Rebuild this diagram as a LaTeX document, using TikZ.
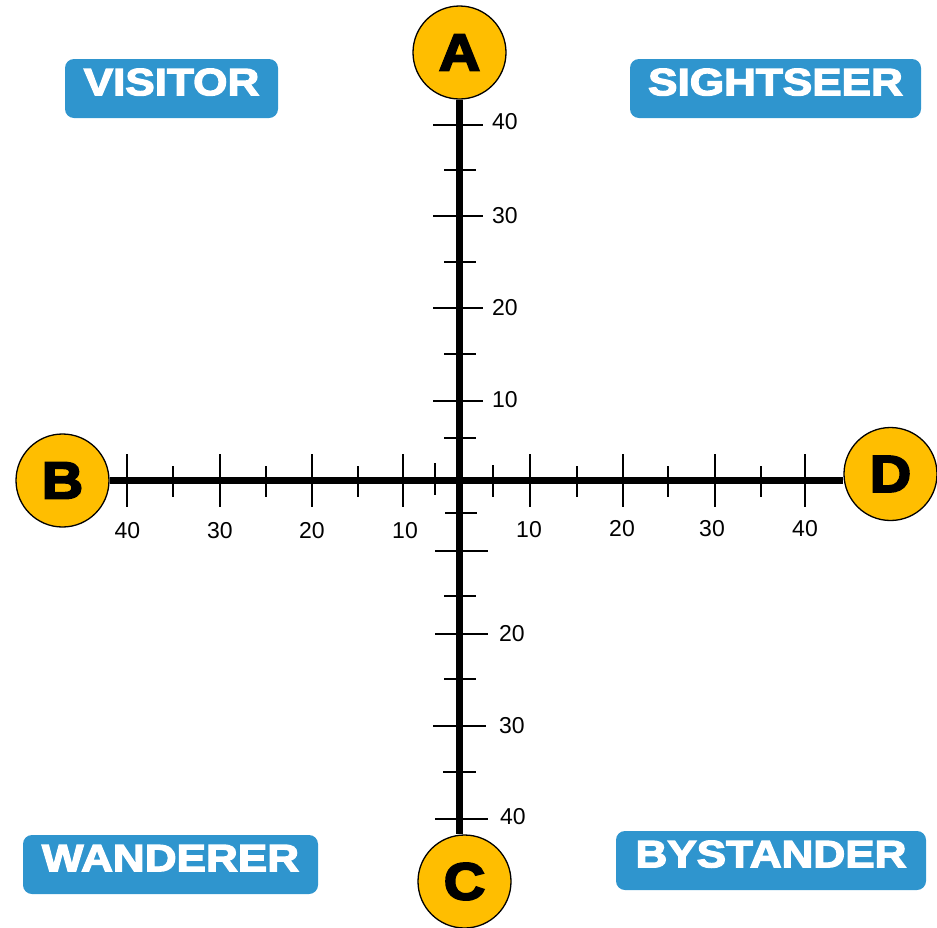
\documentclass[tikz,border=0pt]{standalone}
\usepackage{fontspec}
\setmainfont{Liberation Sans}
\newfontfamily\heavyfont{Liberation Sans}[BoldFeatures={FakeBold=3.5,FakeStretch=1.16}]
\newfontfamily\polefont{Liberation Sans}[BoldFeatures={FakeBold=4,FakeStretch=1.1}]
\usepackage{xcolor}
\usepackage{tikz}
\definecolor{tagblue}{RGB}{47,149,206}
\definecolor{poleyellow}{RGB}{255,190,0}

\begin{document}
\begin{tikzpicture}[x=1pt,y=-1pt,
  pole/.style={circle,draw,line width=1.3pt,fill=poleyellow,minimum size=93pt,inner sep=0pt,
    font=\polefont\bfseries\fontsize{52}{52}\selectfont},
  tag/.style={rounded corners=9pt,fill=tagblue,text=white,inner sep=0pt,text height=36.2pt,text depth=22.8pt,
    font=\heavyfont\bfseries\fontsize{38}{38}\selectfont},
  axis/.style={line width=7pt},
  tickmaj/.style={line width=2pt}, tickmin/.style={line width=2pt},
  num/.style={font=\fontsize{23}{26}\selectfont,inner sep=0pt}]
\useasboundingbox (0,0) rectangle (937,927);
% quadrant tags
\node[tag,minimum width=213pt] (vis) at (171.5,88.5) {VISITOR};
\node[tag,minimum width=291pt] (sig) at (775.5,88.5) {SIGHTSEER};
\node[tag,minimum width=295pt] (wan) at (170.5,864.5) {WANDERER};
\node[tag,minimum width=310pt] (bys) at (771,860.5) {BYSTANDER};
% poles
\node[pole] (A) at (459.5,52.5) {A};
\node[pole] (B) at (62.5,480.5) {B};
\node[pole] (C) at (464.5,881.5) {C};
\node[pole] (D) at (890.5,474) {D};
% axes
\draw[axis] (A.south) -- (A.south |- C.north);
\draw[axis] (B.east) -- (B.east -| D.west);
% ticks on the horizontal axis
\draw[tickmaj] (127,454)--(127,507); \draw[tickmin] (173,466)--(173,497);
\draw[tickmaj] (220,454)--(220,507); \draw[tickmin] (266,466)--(266,497);
\draw[tickmaj] (312,454)--(312,507); \draw[tickmin] (358,466)--(358,497);
\draw[tickmaj] (403,454)--(403,507); \draw[tickmin] (435,463)--(435,495);
\draw[tickmin] (493,465)--(493,497); \draw[tickmaj] (530,454)--(530,507);
\draw[tickmin] (577,466)--(577,497); \draw[tickmaj] (623,454)--(623,507);
\draw[tickmin] (668,466)--(668,497); \draw[tickmaj] (715,454)--(715,507);
\draw[tickmin] (761,466)--(761,497); \draw[tickmaj] (805,454)--(805,507);
% ticks on the vertical axis
\draw[tickmaj] (433,125)--(483,125); \draw[tickmin] (444,170)--(476,170);
\draw[tickmaj] (433,216)--(483,216); \draw[tickmin] (444,262)--(476,262);
\draw[tickmaj] (433,308)--(483,308); \draw[tickmin] (444,354)--(476,354);
\draw[tickmaj] (433,401)--(483,401); \draw[tickmin] (444,438)--(476,438);
\draw[tickmin] (445,513)--(477,513); \draw[tickmaj] (435,551)--(488,551);
\draw[tickmin] (444,596)--(476,596); \draw[tickmaj] (435,634)--(488,634);
\draw[tickmin] (444,679)--(476,679); \draw[tickmaj] (433,726)--(486,726);
\draw[tickmin] (443,772)--(476,772); \draw[tickmaj] (435,819)--(488,819);
% scale numbers
\node[num] (h40l) at (127.5,531) {40}; \node[num] (h30l) at (220,531) {30};
\node[num] (h20l) at (312,531) {20};   \node[num] (h10l) at (405,531) {10};
\node[num] (h10r) at (529,530) {10};   \node[num] (h20r) at (622,529) {20};
\node[num] (h30r) at (712,529) {30};   \node[num] (h40r) at (805,529) {40};
\node[num,anchor=west] (v40u) at (492,122) {40}; \node[num,anchor=west] (v30u) at (492,216) {30};
\node[num,anchor=west] (v20u) at (492,308) {20}; \node[num,anchor=west] (v10u) at (492,400) {10};
\node[num,anchor=west] (v20d) at (499,634) {20}; \node[num,anchor=west] (v30d) at (499,726) {30};
\node[num,anchor=west] (v40d) at (500,817) {40};
\end{tikzpicture}
\end{document}
